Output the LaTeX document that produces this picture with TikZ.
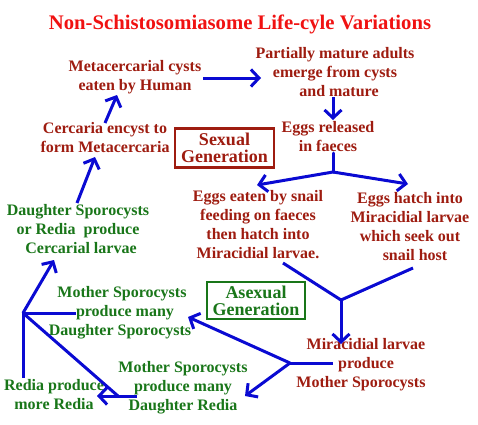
\documentclass[tikz,border=0pt]{standalone}
\usepackage{fontspec}
\setmainfont{Liberation Serif}
\usetikzlibrary{arrows.meta}
\definecolor{dred}{RGB}{158,28,16}
\definecolor{dgreen}{RGB}{25,118,25}
\definecolor{lblue}{RGB}{10,10,210}
\definecolor{tred}{RGB}{240,18,18}
\tikzset{
  redtxt/.style={text=dred, font=\bfseries\fontsize{16}{19}\selectfont, align=center, inner sep=0pt},
  greentxt/.style={text=dgreen, font=\bfseries\fontsize{16}{19}\selectfont, align=center, inner sep=0pt},
  genbox/.style={line width=2.5pt, minimum width=99pt, minimum height=39pt, inner sep=0pt, align=center, font=\bfseries\fontsize{18}{17}\selectfont},
  conn/.style={draw=lblue, line width=3pt},
  arr/.style={conn, -{Straight Barb[length=8pt,width=17pt]}},
}
\begin{document}
\begin{tikzpicture}[x=1pt,y=-1pt]
\useasboundingbox (0,0) rectangle (478,424);
% title
\node[text=tred, font=\bfseries\fontsize{20.7}{24}\selectfont, inner sep=0pt] (title) at (240,24) {Non-Schistosomiasome Life-cyle Variations};
% texts
\node[redtxt] (meta) at (135,77) {Metacercarial cysts\\eaten by Human};
\node[redtxt] (partial) at (335,72.5) {Partially mature adults\\emerge from cysts\\\hspace{8pt}and mature};
\node[redtxt] (cerc) at (105,138) {Cercaria encyst to\\form Metacercaria};
\node[redtxt] (eggsrel) at (328,137) {Eggs released\\in faeces};
\node[genbox, draw=dred, text=dred] (sexual) at (224.5,148) {Sexual\\Generation};
\node[redtxt] (eaten) at (258,225) {Eggs eaten by snail\\feeding on faeces\\then hatch into\\Miracidial larvae.};
\node[redtxt] (hatch) at (410,227) {Eggs hatch into\\Miracidial larvae\\which seek out\\\hspace{10pt}snail host};
\node[greentxt] (daughter) at (78,229) {Daughter Sporocysts\\or Redia\ \ produce\\\hspace{6pt}Cercarial larvae};
\node[greentxt] (mothersp) at (120,313) {\hspace{4pt}Mother Sporocysts\\\hspace{10pt}produce many\\Daughter Sporocysts};
\node[genbox, draw=dgreen, text=dgreen, minimum height=37pt, minimum width=98pt] (asexual) at (256,300.5) {Asexual\\Generation};
\node[redtxt] (miracid) at (361,365) {\hspace{10pt}Miracidial larvae\\\hspace{10pt}produce\\Mother Sporocysts};
\node[greentxt] (motherred) at (183,388) {Mother Sporocysts\\produce many\\Daughter Redia};
\node[greentxt] (redia) at (54,395) {Redia produce\\more Redia};
% connector points
\coordinate (metaout) at (203,78);
\coordinate (partialin) at (261,78);
\coordinate (partialout) at (333,97);
\coordinate (eggsin) at (333,120);
\coordinate (eggsout) at (333,153);
\coordinate (split) at (333,172);
\coordinate (eatenin) at (257,185);
\coordinate (hatchin) at (408,184);
\coordinate (eatenout) at (283,263);
\coordinate (hatchout) at (413,268);
\coordinate (merge) at (341,300);
\coordinate (miracidin) at (341,344);
\coordinate (miracidout) at (333,363);
\coordinate (msplit) at (290,363);
\coordinate (mothersp in) at (188,317);
\coordinate (motherred in) at (245,396);
\coordinate (motherred out) at (137,396);
\coordinate (rediain) at (97,396);
\coordinate (redfork) at (118,396);
\coordinate (cjoin) at (23,313);
\coordinate (mothersp out) at (76,313);
\coordinate (rediaout) at (23,378);
\coordinate (daughterin) at (54,260);
\coordinate (daughterout) at (77,203);
\coordinate (cercin) at (95,157);
\coordinate (cercout) at (105,123);
\coordinate (metain) at (117,95);
% connectors
\draw[arr] (metaout) -- (partialin);
\draw[arr] (partialout) -- (eggsin);
\draw[conn, line cap=round] (eggsout) -- (split);
\draw[arr] (split) -- (eatenin);
\draw[arr] (split) -- (hatchin);
\draw[conn] (eatenout) -- (merge) -- (hatchout);
\draw[arr] (merge) -- (miracidin);
\draw[conn] (miracidout) -- (msplit);
\draw[arr] (msplit) -- (mothersp in);
\draw[arr] (msplit) -- (motherred in);
\draw[arr] (motherred out) -- (rediain);
\draw[conn] (redfork) -- (cjoin);
\draw[conn] (mothersp out) -- (cjoin) -- (rediaout);
\draw[arr] (cjoin) -- (daughterin);
\draw[arr] (daughterout) -- (cercin);
\draw[arr] (cercout) -- (metain);
\end{tikzpicture}
\end{document}
